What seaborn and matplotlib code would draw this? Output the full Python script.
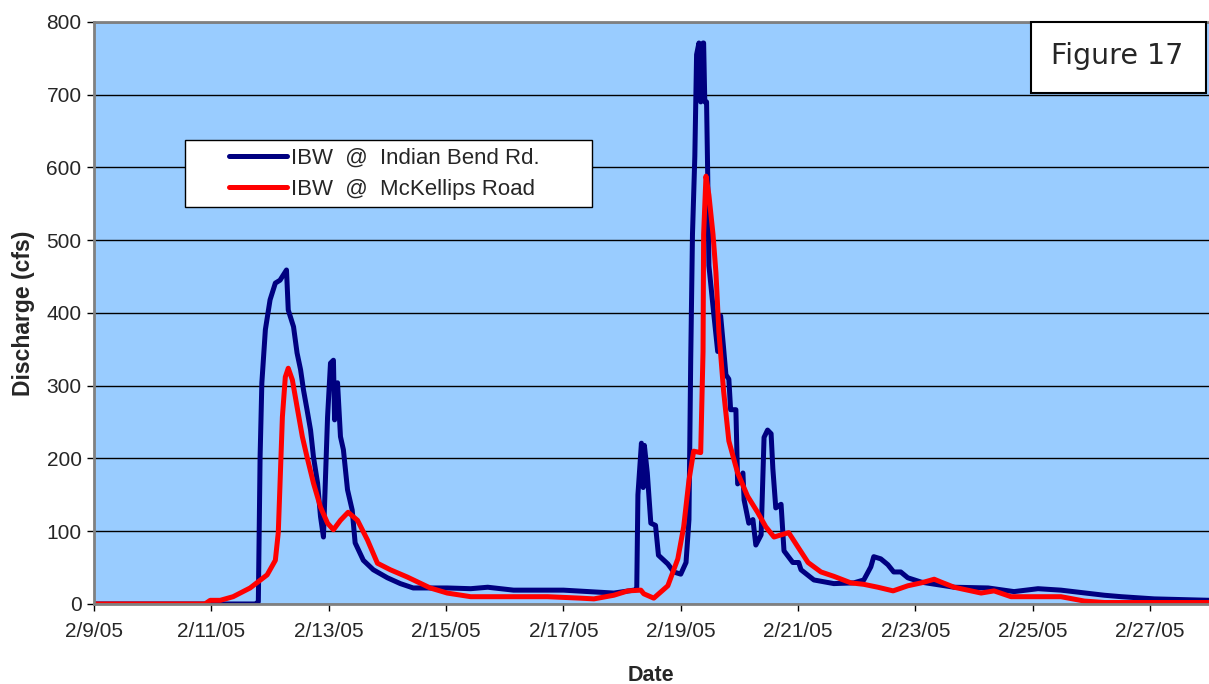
import numpy as np
import pandas as pd
import matplotlib
matplotlib.use('Agg')
import matplotlib.pyplot as plt
from matplotlib.patches import Rectangle
import seaborn as sns

# 数据：距离 2/9/05 0:00 的天数，以及流量 (cfs)
ibw_indian_days = [0.0, 2.75, 2.80, 2.83, 2.86, 2.92, 3.00, 3.09, 3.17, 3.28, 3.31, 3.40, 3.46,
                   3.52, 3.57, 3.63, 3.69, 3.74, 3.81, 3.86, 3.91, 3.98, 4.03, 4.08, 4.10, 4.15,
                   4.20, 4.25, 4.32, 4.40, 4.45, 4.59, 4.76, 5.00, 5.22, 5.44, 6.02, 6.42, 6.71,
                   7.15, 8.00, 8.86, 9.20, 9.25, 9.27, 9.33, 9.36, 9.38, 9.43, 9.49, 9.57, 9.62,
                   9.78, 9.88, 10.00, 10.09, 10.14, 10.17, 10.20, 10.24, 10.27, 10.31, 10.34,
                   10.38, 10.39, 10.41, 10.44, 10.46, 10.48, 10.56, 10.63, 10.68, 10.73, 10.77,
                   10.82, 10.85, 10.94, 10.97, 11.06, 11.08, 11.16, 11.23, 11.28, 11.37, 11.42,
                   11.48, 11.54, 11.57, 11.62, 11.71, 11.76, 11.91, 12.01, 12.05, 12.27, 12.61,
                   12.95, 13.12, 13.24, 13.29, 13.41, 13.53, 13.63, 13.75, 13.87, 14.10, 14.66,
                   15.24, 15.68, 16.09, 16.48, 17.22, 17.51, 18.07, 19.03]
ibw_indian_cfs = [0, 0, 3, 202, 304, 377, 418, 441, 445, 459, 404, 381, 345,
                  322, 294, 267, 239, 202, 166, 120, 92, 257, 331, 335, 253, 304,
                  230, 212, 157, 129, 84, 60, 47, 36, 28, 22, 22, 21, 23,
                  19, 19, 15, 19, 20, 150, 221, 160, 218, 180, 111, 108, 67,
                  55, 44, 41, 57, 116, 336, 508, 615, 755, 771, 690,
                  771, 771, 690, 690, 588, 465, 401, 347, 396, 352, 315,
                  309, 267, 267, 165, 180, 143, 111, 116, 81, 95, 229,
                  239, 234, 186, 132, 137, 73, 57, 57, 47, 33, 28,
                  29, 33, 51, 65, 62, 54, 44, 44, 36, 30, 23,
                  22, 17, 21, 19, 12, 10, 7, 5]

ibw_mckellips_days = [0.0, 1.89, 1.98, 2.15, 2.37, 2.66, 2.95, 3.09, 3.14, 3.17, 3.21, 3.26, 3.31,
                      3.38, 3.46, 3.55, 3.63, 3.74, 3.86, 3.98, 4.08, 4.20, 4.33, 4.49, 4.66,
                      4.83, 5.05, 5.34, 5.73, 6.02, 6.42, 7.73, 8.29, 8.52, 8.86, 9.10, 9.32,
                      9.37, 9.54, 9.78, 9.95, 10.05, 10.14, 10.22, 10.34, 10.38, 10.39, 10.43,
                      10.48, 10.55, 10.60, 10.65, 10.73, 10.82, 10.97, 11.14, 11.31, 11.45,
                      11.59, 11.71, 11.84, 12.00, 12.17, 12.39, 12.61, 12.90, 13.12, 13.36,
                      13.62, 13.87, 14.10, 14.32, 14.44, 14.66, 15.12, 15.34, 15.63, 16.48,
                      16.88, 17.22, 19.03]
ibw_mckellips_cfs = [0, 0, 5, 5, 10, 22, 40, 60, 98, 166, 257, 312, 324,
                     308, 271, 230, 202, 166, 133, 111, 102, 115, 126, 115, 88,
                     56, 47, 37, 22, 15, 10, 10, 8, 7, 12, 18, 19,
                     14, 8, 25, 62, 106, 170, 210, 208, 347, 508, 588,
                     562, 508, 455, 374, 293, 224, 180, 148, 126, 106,
                     92, 95, 98, 78, 57, 44, 38, 29, 27, 23,
                     18, 25, 29, 34, 30, 23, 15, 18, 10, 10,
                     4, 2, 2]

series_names = ['IBW  @  Indian Bend Rd.', 'IBW  @  McKellips Road']
series_colors = ['#000080', '#FF0000']
date_ticks = ['2/9/05', '2/11/05', '2/13/05', '2/15/05', '2/17/05',
              '2/19/05', '2/21/05', '2/23/05', '2/25/05', '2/27/05']
y_ticks = [0, 100, 200, 300, 400, 500, 600, 700, 800]

start = pd.Timestamp('2005-02-09')
df = pd.concat([
    pd.DataFrame({'Date': start + pd.to_timedelta(ibw_indian_days, unit='D'),
                  'Discharge': ibw_indian_cfs, 'Site': series_names[0]}),
    pd.DataFrame({'Date': start + pd.to_timedelta(ibw_mckellips_days, unit='D'),
                  'Discharge': ibw_mckellips_cfs, 'Site': series_names[1]}),
])

sns.set_style('white')
plt.rcParams['font.family'] = ['Liberation Sans', 'DejaVu Sans']

fig = plt.figure(figsize=(12.09, 6.84), dpi=100)
ax = fig.add_axes([0.0778, 0.117, 0.922, 0.851])
ax.set_facecolor('#99CCFF')

sns.lineplot(data=df, x='Date', y='Discharge', hue='Site', palette=series_colors,
             linewidth=3.6, ax=ax, legend=True)

ax.set_ylim(0, 800)
ax.set_xlim(start, start + pd.Timedelta(days=19))
ax.set_yticks(y_ticks)
ax.set_yticklabels([str(v) for v in y_ticks])
tick_dates = pd.to_datetime(['2005-' + t.split('/')[0] + '-' + t.split('/')[1] for t in date_ticks])
ax.set_xticks(tick_dates)
ax.set_xticklabels(date_ticks)
ax.tick_params(axis='both', labelsize=15, length=5, width=1, color='black',
               direction='out', bottom=True, left=True)
ax.tick_params(axis='x', pad=8)
ax.tick_params(axis='y', pad=4)

ax.grid(axis='y', color='black', linewidth=1)
ax.grid(axis='x', visible=False)
ax.set_axisbelow(True)
for s in ['left', 'bottom', 'top']:
    ax.spines[s].set_color('#808080')
    ax.spines[s].set_linewidth(2)
ax.spines['right'].set_visible(False)

ax.set_xlabel('Date', fontsize=15.5, fontweight='bold', labelpad=17)
ax.set_ylabel('Discharge (cfs)', fontsize=16.5, fontweight='bold', labelpad=8)

# 图例：白色方框 + 无边框的图例
ax.add_patch(Rectangle((0.0817, 0.682), 0.365, 0.115, transform=ax.transAxes,
                       facecolor='white', edgecolor='black', linewidth=1, zorder=5))
leg = ax.legend(loc='center left', bbox_to_anchor=(0.111, 0.7395), fontsize=16,
                frameon=False, handlelength=2.6, handletextpad=0.2, borderpad=0,
                labelspacing=0.45)
leg.set_zorder(6)
for line in leg.get_lines():
    line.set_linewidth(3.6)

# Figure 17 标签框
fig.patches.append(Rectangle((1031 / 1209, 1 - 93 / 684), 175 / 1209, 71 / 684,
                             transform=fig.transFigure, facecolor='white',
                             edgecolor='black', linewidth=1.5, zorder=10))
fig.text(1117.5 / 1209, 1 - 64 / 684, 'Figure 17', ha='center', va='baseline',
         fontsize=20.5, family=['DejaVu Sans'], zorder=11)

fig.savefig('out.png', dpi=100)
